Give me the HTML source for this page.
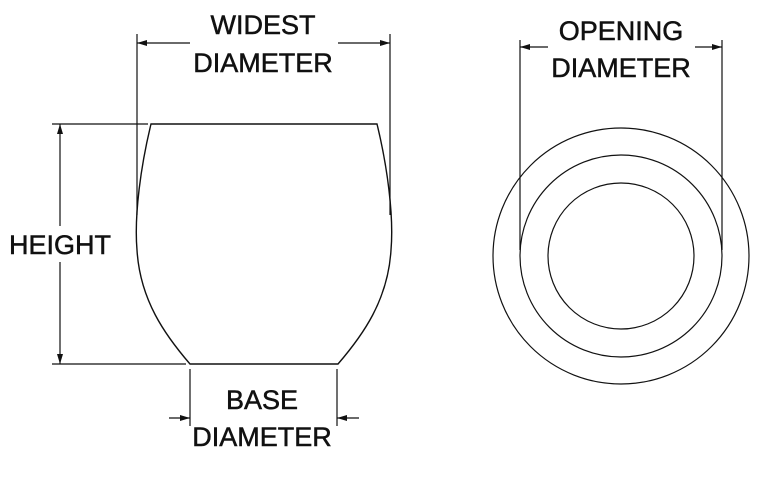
<!DOCTYPE html>
<html><head><meta charset="utf-8"><style>
html,body{margin:0;padding:0;background:#fff}
svg{display:block}
text{font-family:"Liberation Sans",sans-serif;font-size:27px;fill:#111;stroke:#111;stroke-width:0.5;text-anchor:middle}
</style></head><body>
<svg width="778" height="478" viewBox="0 0 778 478" xmlns="http://www.w3.org/2000/svg">
<defs>
<marker id="a" viewBox="0 0 10 6" refX="10" refY="3" markerWidth="10" markerHeight="6" orient="auto-start-reverse" markerUnits="userSpaceOnUse">
<path d="M0,0 L10,3 L0,6 z" fill="#111"/></marker>
</defs>
<g stroke="#111" stroke-width="1.2" fill="none">
<path d="M151,124 L377,124 C387,165 394,215 391,250 C388,300 363,335 338,364 L190,364 C165,335 140,300 137,250 C134,215 141,165 151,124 Z" stroke-width="1.4"/>
<line x1="137" y1="34" x2="137" y2="215"/>
<line x1="390" y1="34" x2="390" y2="215"/>
<line x1="190" y1="43" x2="137" y2="43" marker-end="url(#a)"/>
<line x1="338" y1="43" x2="390" y2="43" marker-end="url(#a)"/>
<line x1="52" y1="124" x2="148" y2="124"/>
<line x1="52" y1="364" x2="186" y2="364"/>
<line x1="60" y1="226" x2="60" y2="124" marker-end="url(#a)"/>
<line x1="60" y1="262" x2="60" y2="364" marker-end="url(#a)"/>
<line x1="190" y1="369" x2="190" y2="426"/>
<line x1="337" y1="369" x2="337" y2="426"/>
<line x1="169" y1="418" x2="190" y2="418" marker-end="url(#a)"/>
<line x1="359" y1="418" x2="337" y2="418" marker-end="url(#a)"/>
<circle cx="621" cy="256" r="128"/>
<circle cx="621" cy="256" r="101"/>
<circle cx="621" cy="256" r="73"/>
<line x1="520" y1="40" x2="520" y2="250"/>
<line x1="722" y1="40" x2="722" y2="250"/>
<line x1="548" y1="47" x2="520" y2="47" marker-end="url(#a)"/>
<line x1="695" y1="47" x2="722" y2="47" marker-end="url(#a)"/>
</g>
<text x="263" y="34">WIDEST</text>
<text x="263" y="72">DIAMETER</text>
<text x="60" y="254">HEIGHT</text>
<text x="262" y="409">BASE</text>
<text x="262" y="446">DIAMETER</text>
<text x="621" y="40">OPENING</text>
<text x="621" y="77">DIAMETER</text>
</svg>
</body></html>
